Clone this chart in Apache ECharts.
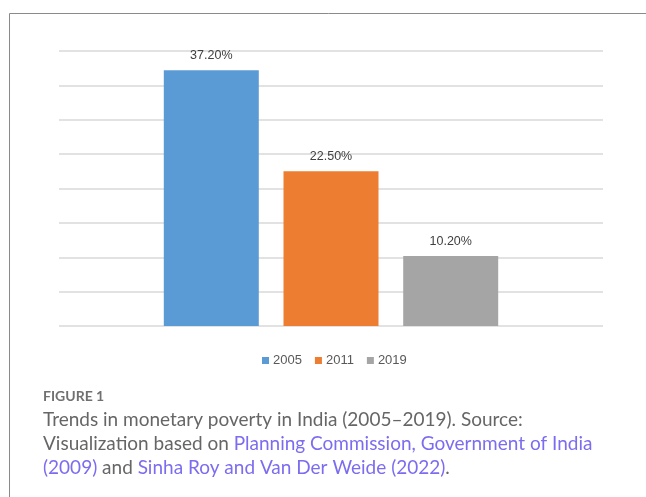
<!DOCTYPE html>
<html>
<head>
<meta charset="utf-8">
<script src="https://cdn.jsdelivr.net/npm/echarts@6/dist/echarts.min.js"></script>
<style>
  html, body { margin: 0; padding: 0; background: #fff; }
  #chart { width: 646px; height: 497px; }
</style>
</head>
<body>
<div id="chart"></div>
<script>
// Poverty headcount ratio (%) by survey year
const years = ['2005', '2011', '2019'];
const povertyRates = [37.2, 22.5, 10.2];
const barColors = ['#5b9bd5', '#ed7d31', '#a5a5a5'];
const yTicks = { min: 0, max: 40, step: 5 };

const captionLabel = 'FIGURE 1';
const captionText =
  '{t|Trends in monetary poverty in India (2005\u20132019). Source:}\n' +
  '{t|Visualization based on }{l|Planning Commission, Government of India}\n' +
  '{l|(2009)}{t| and }{l|Sinha Roy and Van Der Weide (2022)}{t|.}';

const chart = echarts.init(document.getElementById('chart'), null, { renderer: 'canvas' });

const series = years.map((y, i) => ({
  name: y,
  type: 'bar',
  data: [povertyRates[i]],
  barWidth: 95,
  barGap: '26%',
  itemStyle: { color: barColors[i] },
  label: {
    show: true,
    position: 'top',
    distance: 8,
    color: '#404040',
    fontSize: 12.5,
    fontFamily: 'Liberation Sans, Arial, sans-serif',
    formatter: p => p.value.toFixed(2) + '%'
  }
}));

const captionFont = 'Lato, "Open Sans", sans-serif';

chart.setOption({
  animation: false,
  backgroundColor: '#ffffff',
  grid: { left: 59, right: 43, top: 51, bottom: 171, containLabel: false },
  legend: {
    data: years,
    left: 257,
    top: 349,
    icon: 'rect',
    itemWidth: 7,
    itemHeight: 7,
    itemGap: 13,
    textStyle: { color: '#595959', fontSize: 13, fontFamily: 'Liberation Sans, Arial, sans-serif', padding: [0, 0, 0, -1] }
  },
  xAxis: {
    type: 'category',
    data: [''],
    axisLine: { show: false },
    axisTick: { show: false },
    axisLabel: { show: false }
  },
  yAxis: {
    type: 'value',
    min: yTicks.min,
    max: yTicks.max,
    interval: yTicks.step,
    axisLine: { show: false },
    axisTick: { show: false },
    axisLabel: { show: false },
    splitLine: { lineStyle: { color: '#d9d9d9', width: 1.5 } }
  },
  series: series,
  graphic: [
    {
      type: 'rect',
      silent: true,
      shape: { x: 9.5, y: 13.5, width: 700, height: 600 },
      style: { fill: 'none', stroke: '#8a8a8a', lineWidth: 1 }
    },
    {
      type: 'text',
      silent: true,
      x: 43,
      y: 389,
      style: {
        text: captionLabel,
        fill: '#707070',
        font: 'bold 14px ' + captionFont,
        verticalAlign: 'top'
      }
    },
    {
      type: 'text',
      silent: true,
      x: 43,
      y: 407.5,
      style: {
        text: captionText,
        verticalAlign: 'top',
        rich: {
          t: { fill: '#666666', fontSize: 19, fontFamily: captionFont, lineHeight: 24 },
          l: { fill: '#7b6cf0', fontSize: 19, fontFamily: captionFont, lineHeight: 24 }
        }
      }
    }
  ]
});
</script>
</body>
</html>
